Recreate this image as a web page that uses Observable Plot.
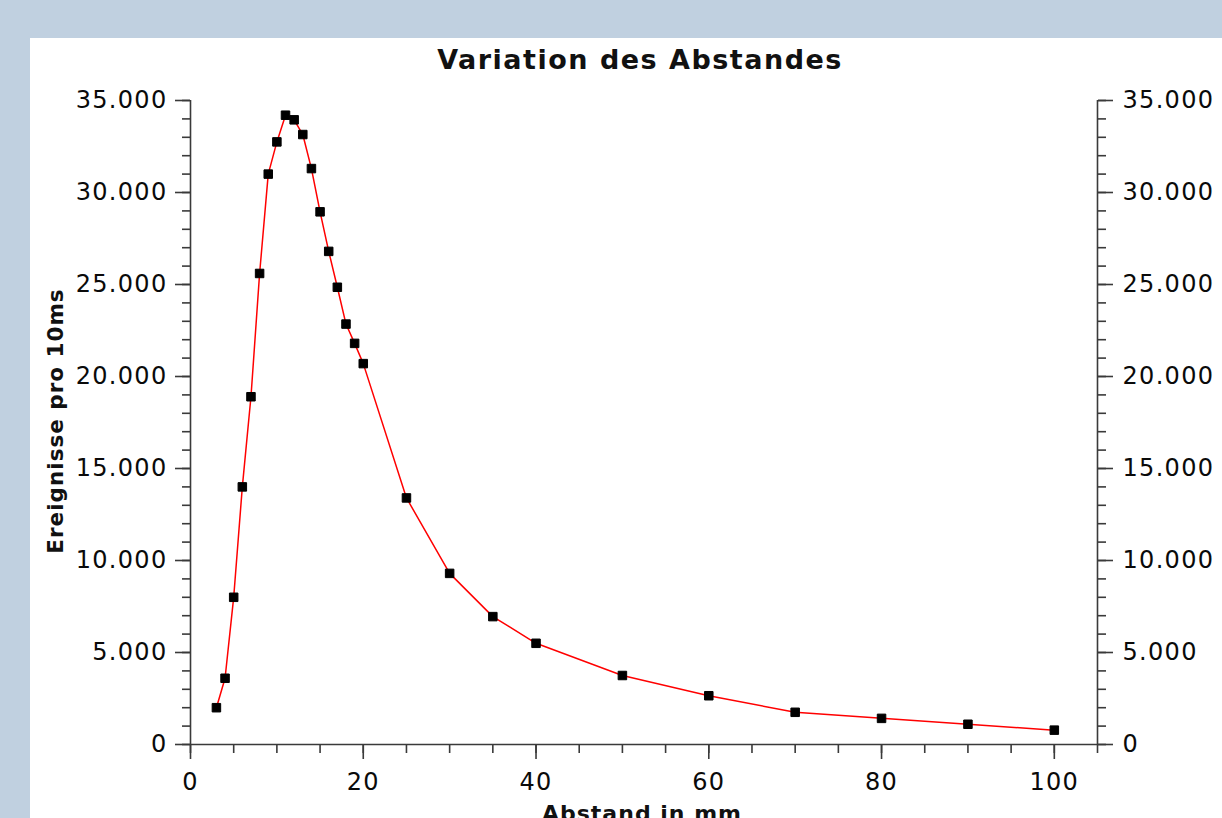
<!DOCTYPE html>
<html>
<head>
<meta charset="utf-8">
<script src="https://cdn.jsdelivr.net/npm/d3@7"></script>
<script src="https://cdn.jsdelivr.net/npm/@observablehq/plot@0.6"></script>
<style>
  html, body { margin: 0; padding: 0; width: 1222px; height: 818px; overflow: hidden; background: #c0d0e0; }
  #panel { position: absolute; left: 30px; top: 38px; right: 0; bottom: 0; background: #ffffff; }
  #chart { position: absolute; left: 0; top: 0; width: 1222px; height: 818px; }
  .lbl { position: absolute; font-family: "DejaVu Sans", sans-serif; font-weight: bold; color: #111; white-space: nowrap; }
  #title { left: 0; width: 1280px; top: 44px; text-align: center; font-size: 27px; letter-spacing: 1.5px; }
  #xlabel { left: 0; width: 1284px; top: 801px; text-align: center; font-size: 22px; letter-spacing: 1px; }
  #ylabel { left: 55px; top: 421px; font-size: 21.5px; letter-spacing: 1px; transform: translate(-50%, -50%) rotate(-90deg); }
</style>
</head>
<body>
<div id="panel"></div>
<div id="chart"></div>
<div id="title" class="lbl">Variation des Abstandes</div>
<div id="xlabel" class="lbl">Abstand in mm</div>
<div id="ylabel" class="lbl">Ereignisse pro 10ms</div>
<script>
// Data: distance in mm and events per 10 ms
const abstand = [3, 4, 5, 6, 7, 8, 9, 10, 11, 12, 13, 14, 15, 16, 17, 18, 19, 20, 25, 30, 35, 40, 50, 60, 70, 80, 90, 100];
const ereignisse = [2000, 3600, 8000, 14000, 18900, 25600, 31000, 32750, 34200, 33950, 33150, 31300, 28950, 26800, 24850, 22850, 21800, 20700, 13400, 9300, 6950, 5500, 3750, 2650, 1750, 1420, 1100, 780];

const xMajorTicks = [0, 20, 40, 60, 80, 100];
const xMinorTicks = d3.range(0, 106, 5);
const yMajorTicks = d3.range(0, 35001, 5000);
const yMinorTicks = d3.range(0, 35001, 1000);

const data = abstand.map((a, i) => ({abstand: a, ereignisse: ereignisse[i]}));
const de = d3.formatLocale({decimal: ",", thousands: ".", grouping: [3], currency: ["", " €"]});
const fmt = de.format(",d");

const axisColor = "#3a3a3a";
const tickFont = 24;

const chart = Plot.plot({
  width: 1222,
  height: 818,
  marginLeft: 190,
  marginRight: 125,
  marginTop: 100,
  marginBottom: 74,
  style: {background: "transparent", fontFamily: "DejaVu Sans, sans-serif", fontSize: tickFont + "px", color: "#111", letterSpacing: "1.3px"},
  x: {domain: [0, 105]},
  y: {domain: [0, 35000]},
  marks: [
    // axis lines
    Plot.ruleX([0], {stroke: axisColor, strokeWidth: 1.6}),
    Plot.ruleX([105], {stroke: axisColor, strokeWidth: 1.6}),
    Plot.ruleY([0], {stroke: axisColor, strokeWidth: 1.6}),
    // x axis
    Plot.axisX({ticks: xMinorTicks, tickFormat: null, tickSize: 9, stroke: axisColor, strokeWidth: 1.6, label: null, text: null}),
    Plot.axisX({ticks: xMajorTicks, tickFormat: d => String(d), tickSize: 15, tickPadding: 13, stroke: axisColor, strokeWidth: 1.6, fill: "#0a0a0a", fontSize: tickFont, label: null}),
    // left y axis
    Plot.axisY({anchor: "left", ticks: yMinorTicks, tickFormat: null, tickSize: 8, stroke: axisColor, strokeWidth: 1.6, label: null, text: null}),
    Plot.axisY({anchor: "left", ticks: yMajorTicks, tickFormat: fmt, tickSize: 15, tickPadding: 8, stroke: axisColor, strokeWidth: 1.6, fill: "#0a0a0a", fontSize: tickFont, label: null}),
    // right y axis
    Plot.axisY({anchor: "right", ticks: yMinorTicks, tickFormat: null, tickSize: 8, stroke: axisColor, strokeWidth: 1.6, label: null, text: null}),
    Plot.axisY({anchor: "right", ticks: yMajorTicks, tickFormat: fmt, tickSize: 15, tickPadding: 10, stroke: axisColor, strokeWidth: 1.6, fill: "#0a0a0a", fontSize: tickFont, label: null}),
    // data
    Plot.line(data, {x: "abstand", y: "ereignisse", stroke: "#ff0000", strokeWidth: 1.5}),
    Plot.dot(data, {x: "abstand", y: "ereignisse", symbol: "square", r: 4.8, fill: "#000", stroke: "#000", strokeWidth: 1, strokeLinejoin: "round"})
  ]
});
document.getElementById("chart").appendChild(chart);
</script>
</body>
</html>
